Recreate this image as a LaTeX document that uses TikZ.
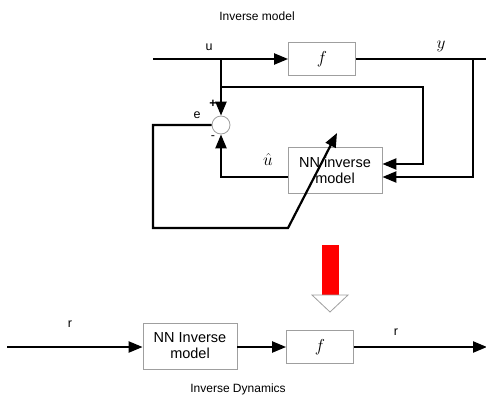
\documentclass[tikz,border=0pt]{standalone}
\usepackage{fontspec}
\setmainfont{Liberation Sans}
\usetikzlibrary{arrows.meta,calc}

\begin{document}
\begin{tikzpicture}[x=1pt, y=-1pt,
  box/.style={rectangle, draw=gray!75, line width=0.8pt, fill=white, minimum width=#1, align=center, font=\fontsize{14.5}{16}\selectfont},
  fbox/.style={box=67pt, minimum height=33pt},
  nnbox/.style={box=94pt, minimum height=46pt},
  wire/.style={line width=2.2pt, black},
  arr/.style={wire, -{Triangle[length=14pt,width=11pt]}},
  lbl/.style={font=\fontsize{12.5}{14}\selectfont},
  mlbl/.style={font=\fontsize{17}{19}\selectfont}
]
  \useasboundingbox (0,0) rectangle (486,404);

  % upper loop: training the inverse model
  \node[font=\fontsize{12}{14}\selectfont] (title1) at (257,16) {Inverse model};
  \node[fbox, font=\fontsize{17}{19}\selectfont] (f1) at (322,59) {$f$};
  \node[nnbox] (nn1) at (335,170.5) {NN inverse\\model};
  \node[circle, draw=gray!75, line width=0.8pt, minimum size=18pt, inner sep=0pt] (sum) at (221,125) {};

  \coordinate (uin) at (153,59);
  \coordinate (ub) at (221,59);
  \coordinate (yout) at (486,59);
  \coordinate (yb) at (473,59);
  \coordinate (ua) at (221,87);
  \coordinate (ur) at (423,87);
  \coordinate (uc) at (423,164);
  \coordinate (yc) at (473,177);
  \coordinate (uh) at (221,177);
  \coordinate (e1) at (153,125);
  \coordinate (e2) at (153,228);
  \coordinate (e3) at (288,228);
  \coordinate (e4) at (337,133);

  \draw[arr] (uin) -- (f1.west);
  \draw[wire] (f1.east) -- (yout);
  \draw[arr] (ub) -- (sum.north);
  \draw[arr] (ua) -- (ur) -- (uc) -- (uc -| nn1.east);
  \draw[arr] (yb) -- (yc) -- (yc -| nn1.east);
  \draw[arr] (uh -| nn1.west) -- (uh) -- (sum.south);
  \draw[arr] (sum.west) -- (e1) -- (e2) -- (e3) -- (e4);

  \node[lbl] (lu) at (209,47) {u};
  \node[mlbl] (ly) at (441,46) {$y$};
  \node[lbl] (le) at (197,115) {e};
  \node[lbl, inner sep=0pt] (lp) at (213,104) {\textbf{+}};
  \node[lbl, inner sep=0pt] (lm) at (213,138) {-};
  \node[mlbl] (luh) at (268,159) {$\hat{u}$};

  % red block arrow
  \fill[red] (322,245) rectangle (339,295);
  \draw[gray!75, fill=white, line width=0.8pt] (312,295) -- (348,295) -- (330,312) -- cycle;

  % lower chain: inverse dynamics
  \node[nnbox] (nn2) at (190,346) {NN Inverse\\model};
  \node[fbox, font=\fontsize{17}{19}\selectfont] (f2) at (320,347) {$f$};
  \coordinate (rin) at (7,347);
  \coordinate (rout) at (487,347);
  \draw[arr] (rin) -- (rin -| nn2.west);
  \draw[arr] (nn2.east |- f2.west) -- (f2.west);
  \draw[arr] (f2.east) -- (rout);
  \node[lbl] (lr1) at (70,324) {r};
  \node[lbl] (lr2) at (396,332) {r};
  \node[font=\fontsize{12}{14}\selectfont] (title2) at (238,389) {Inverse Dynamics};
\end{tikzpicture}
\end{document}
